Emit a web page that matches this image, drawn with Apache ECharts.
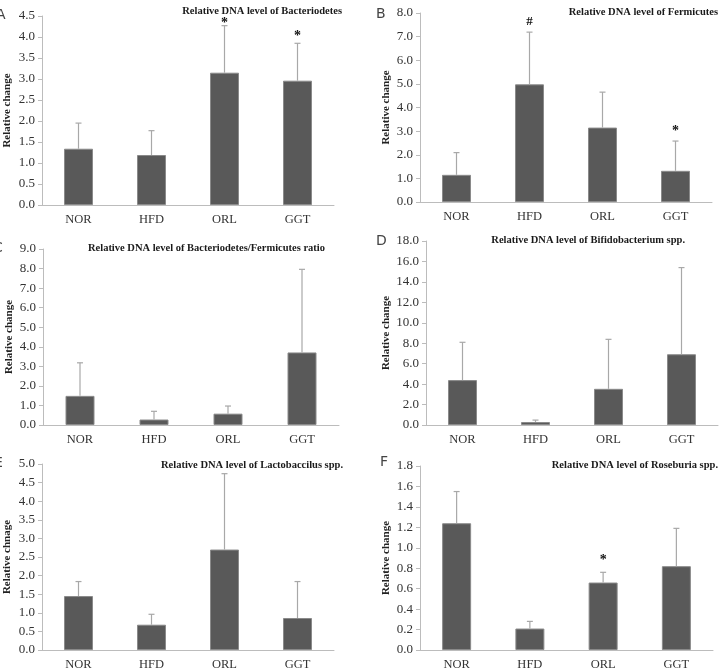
<!DOCTYPE html>
<html>
<head>
<meta charset="utf-8">
<script src="https://cdn.jsdelivr.net/npm/echarts@6/dist/echarts.min.js"></script>
<style>
  html,body{margin:0;padding:0;background:#fff;}
  #chart{width:721px;height:671px;}
</style>
</head>
<body>
<div id="chart"></div>
<script>
// groups on every x axis
const groups = ['NOR', 'HFD', 'ORL', 'GGT'];

// panel A - Bacteriodetes
const meanA = [1.34, 1.19, 3.15, 2.96];
const errA = [1.95, 1.77, 4.27, 3.85];
const markA = ['', '', '*', '*'];
const markYA = [null, null, 4.40, 4.08];

// panel B - Fermicutes
const meanB = [1.15, 4.98, 3.15, 1.32];
const errB = [2.09, 7.19, 4.65, 2.58];
const markB = ['', '#', '', '*'];
const markYB = [null, 7.62, null, 3.12];

// panel C - ratio
const meanC = [1.49, 0.28, 0.58, 3.71];
const errC = [3.18, 0.70, 0.97, 7.96];
const markC = ['', '', '', ''];
const markYC = [null, null, null, null];

// panel D - Bifidobacterium
const meanD = [4.39, 0.29, 3.54, 6.92];
const errD = [8.09, 0.48, 8.38, 15.4];
const markD = ['', '', '', ''];
const markYD = [null, null, null, null];

// panel E - Lactobaccilus
const meanE = [1.45, 0.68, 2.70, 0.86];
const errE = [1.84, 0.96, 4.74, 1.84];
const markE = ['', '', '', ''];
const markYE = [null, null, null, null];

// panel F - Roseburia
const meanF = [1.24, 0.21, 0.66, 0.82];
const errF = [1.55, 0.28, 0.76, 1.19];
const markF = ['', '', '*', ''];
const markYF = [null, null, 0.91, null];

const titles = [
  'Relative DNA level of Bacteriodetes',
  'Relative DNA level of Fermicutes',
  'Relative DNA level of Bacteriodetes/Fermicutes ratio',
  'Relative DNA level of Bifidobacterium spp.',
  'Relative DNA level of Lactobaccilus spp.',
  'Relative DNA level of Roseburia spp.'
];
const yNames = ['Relative change', 'Relative change', 'Relative change', 'Relative change', 'Relative chnage', 'Relative change'];
const yMax = [4.5, 8, 9, 18, 5, 1.8];
const yStep = [0.5, 1, 1, 2, 0.5, 0.2];
const letters = ['A', 'B', 'C', 'D', 'E', 'F'];

const means = [meanA, meanB, meanC, meanD, meanE, meanF];
const errs = [errA, errB, errC, errD, errE, errF];
const marks = [markA, markB, markC, markD, markE, markF];
const markYs = [markYA, markYB, markYC, markYD, markYE, markYF];

// layout of the six panels (pixels)
const grids = [
  {left: 42, top: 16, width: 292, height: 189},
  {left: 420, top: 13, width: 292, height: 189},
  {left: 43, top: 249, width: 296, height: 176},
  {left: 426, top: 241, width: 292, height: 184},
  {left: 42, top: 464, width: 292, height: 190},
  {left: 420, top: 466, width: 293, height: 187}
];
const nameGaps = [29, 28, 28, 34, 29, 28];
// titles are placed by their right edge
const titlePos = [[379, 6], [3, 7], [396, 243], [36, 235], [378, 460], [3, 460]];
const letterPos = [[-4, 8], [376, 7], [-7, 241], [376, 234], [-6, 456], [380, 455]];

const serif = '"Liberation Serif", "Times New Roman", serif';
const axisGray = '#bcbcbc';

const chart = echarts.init(document.getElementById('chart'));

const xAxis = [], yAxis = [], series = [], title = [], graphic = [];
grids.forEach((g, i) => {
  xAxis.push({
    type: 'category', gridIndex: i, data: groups,
    axisLine: {lineStyle: {color: axisGray}},
    axisTick: {length: 4, lineStyle: {color: axisGray}},
    axisLabel: {color: '#333', fontFamily: serif, fontSize: 12.5, margin: 8}
  });
  yAxis.push({
    type: 'value', gridIndex: i, min: 0, max: yMax[i], interval: yStep[i],
    name: yNames[i], nameLocation: 'middle', nameGap: nameGaps[i],
    nameTextStyle: {fontFamily: serif, fontWeight: 'bold', fontSize: 11, color: '#222'},
    splitLine: {show: false},
    axisLine: {show: true, lineStyle: {color: axisGray}},
    axisTick: {show: true, length: 4, lineStyle: {color: axisGray}},
    axisLabel: {color: '#333', fontFamily: serif, fontSize: 13, margin: 7,
      formatter: v => v.toFixed(1)}
  });
  series.push({
    type: 'bar', xAxisIndex: i, yAxisIndex: i, barWidth: 29,
    data: means[i],
    itemStyle: {color: '#595959', borderColor: '#8a8a8a', borderWidth: 1},
    z: 2
  });
  const errData = groups.map((_, k) => [k, means[i][k], errs[i][k], markYs[i][k] == null ? 0 : markYs[i][k], marks[i][k]]);
  series.push({
    type: 'custom', xAxisIndex: i, yAxisIndex: i,
    data: errData, z: 3,
    encode: {x: 0, y: [1, 2]},
    renderItem: (params, api) => {
      const k = api.value(0);
      const base = api.coord([k, api.value(1)]);
      const top = api.coord([k, api.value(2)]);
      const kids = [
        {type: 'line', shape: {x1: base[0], y1: base[1], x2: top[0], y2: top[1]},
          style: {stroke: '#a8a8a8', lineWidth: 1.2}},
        {type: 'line', shape: {x1: top[0] - 3, y1: top[1], x2: top[0] + 3, y2: top[1]},
          style: {stroke: '#a8a8a8', lineWidth: 1.2}}
      ];
      const mk = errData[params.dataIndex][4];
      if (mk) {
        const p = api.coord([k, api.value(3)]);
        // the star glyph sits high in its box, so nudge it down a little
        kids.push({type: 'text', x: p[0], y: p[1] + (mk === '*' ? 3 : 0),
          style: {text: mk, fill: '#111', font: 'bold ' + (mk === '#' ? 13 : 14) + 'px ' + serif,
            align: 'center', verticalAlign: 'middle'}});
      }
      return {type: 'group', children: kids};
    }
  });
  title.push({
    text: titles[i], right: titlePos[i][0], top: titlePos[i][1], padding: 0,
    textStyle: {fontFamily: serif, fontWeight: 'bold', fontSize: 10.5, color: '#1a1a1a'}
  });
  graphic.push({
    type: 'text', left: letterPos[i][0], top: letterPos[i][1],
    style: {text: letters[i], font: '14px "DejaVu Sans", sans-serif', fill: '#444'}
  });
});

chart.setOption({
  animation: false,
  title: title,
  grid: grids,
  xAxis: xAxis,
  yAxis: yAxis,
  series: series,
  graphic: graphic
});
</script>
</body>
</html>
